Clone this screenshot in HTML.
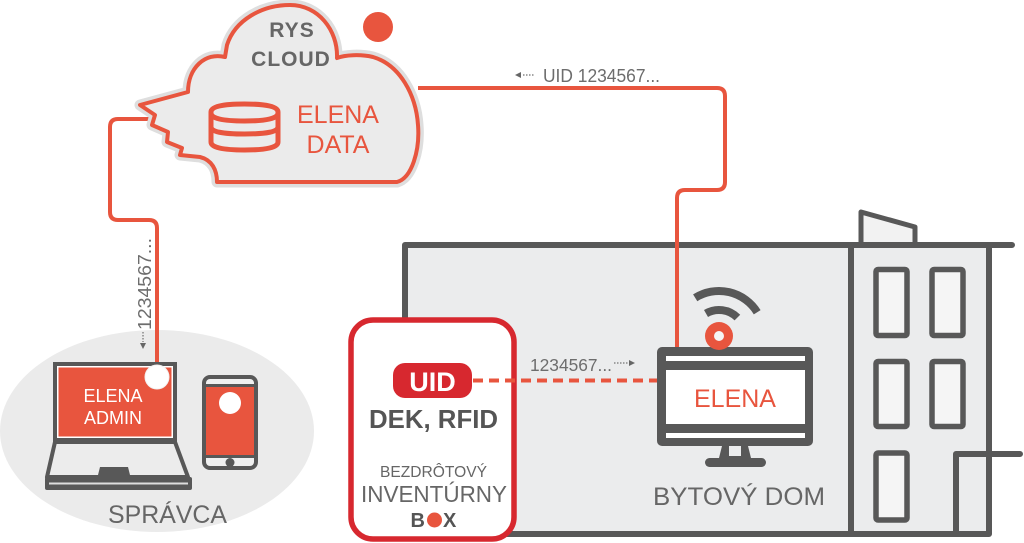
<!DOCTYPE html>
<html><head><meta charset="utf-8"><style>
html,body{margin:0;padding:0;background:#fff;}
svg{display:block;}
text{font-family:"Liberation Sans",sans-serif;}
</style></head><body>
<svg width="1024" height="543" viewBox="0 0 1024 543" xmlns="http://www.w3.org/2000/svg">
<rect width="1024" height="543" fill="#fff"/>
<!-- gray ellipse -->
<ellipse cx="157" cy="431" rx="157" ry="101" fill="#ebebeb"/>

<!-- building -->
<rect x="405" y="245" width="584" height="289" fill="#ebeced"/>
<path d="M861 245 V212 L915 227 V245 Z" fill="#f2f2f2" stroke="#585858" stroke-width="5" stroke-linejoin="round"/>
<g fill="none" stroke="#585858" stroke-width="6" stroke-linecap="round" stroke-linejoin="round">
<path d="M405 330 V245 H1012"/>
<path d="M851 245 V534 M989 245 V534 M500 534 H989"/>
<path d="M956 534 V454 H1020"/>
</g>
<g fill="#f5f5f5" stroke="#585858" stroke-width="5.5" stroke-linejoin="round">
<rect x="876" y="269.5" width="31" height="66" rx="2"/>
<rect x="932" y="269.5" width="31" height="66" rx="2"/>
<rect x="876" y="361.5" width="31" height="65" rx="2"/>
<rect x="932" y="361.5" width="31" height="65" rx="2"/>
<rect x="876" y="453" width="31" height="67" rx="2"/>
</g>

<!-- red connectors -->
<g fill="none" stroke="#e8553e" stroke-width="4">
<path d="M418 88 H717 Q725 88 725 96 V182 Q725 190 717 190 H685 Q677 190 677 198 V348"/>
<path d="M150 119 H118 Q110 119 110 127 V212 Q110 220 118 220 H149 Q157 220 157 228 V372"/>
</g>

<!-- cloud -->
<path d="M217 182 L397 182 C412 178 420 150 418 125 C416 95 400 65 373 57 C360 54 345 55 337 58 C338 30 318 5 290 5 C262 5 235 20 227 45 L225 57 C205 52 188 68 188 92 L140 105 L155 115 L152 125 L168 132 L167 142 L182 148 L180 155 L200 157 C212 160 217 170 217 182 Z" fill="none" stroke="#dedede" stroke-width="11" stroke-linejoin="round"/>
<path d="M217 182 L397 182 C412 178 420 150 418 125 C416 95 400 65 373 57 C360 54 345 55 337 58 C338 30 318 5 290 5 C262 5 235 20 227 45 L225 57 C205 52 188 68 188 92 L140 105 L155 115 L152 125 L168 132 L167 142 L182 148 L180 155 L200 157 C212 160 217 170 217 182 Z" fill="#ebebeb" stroke="#e8553e" stroke-width="4" stroke-linejoin="round"/>
<circle cx="378" cy="27" r="15" fill="#e8553e"/>
<text x="292" y="37" font-size="21" font-weight="bold" fill="#666" text-anchor="middle" letter-spacing="1">RYS</text>
<text x="291" y="66" font-size="21" font-weight="bold" fill="#666" text-anchor="middle" letter-spacing="1">CLOUD</text>
<!-- db icon -->
<g fill="none" stroke="#e8553e" stroke-width="5">
<path d="M211 112 Q211 104 244.5 104 Q278 104 278 112 V142 Q278 150 244.5 150 Q211 150 211 142 Z"/>
<path d="M211 113 Q211 121 244.5 121 Q278 121 278 113"/>
<path d="M211 127 Q211 134 244.5 134 Q278 134 278 127"/>
</g>
<text x="338" y="123" font-size="25" fill="#e8553e" text-anchor="middle">ELENA</text>
<text x="338" y="153" font-size="25" fill="#e8553e" text-anchor="middle">DATA</text>

<!-- top label -->
<path d="M515 75 L521 72 V78 Z" fill="#666"/>
<path d="M523 75 H534" stroke="#888" stroke-width="1.5" stroke-dasharray="1.5 1.5"/>
<text x="543" y="82" font-size="18" fill="#6d6d6d" textLength="117" lengthAdjust="spacingAndGlyphs">UID 1234567...</text>

<!-- vertical label -->
<text transform="translate(151,330) rotate(-90)" font-size="18" fill="#6d6d6d" textLength="92" lengthAdjust="spacingAndGlyphs">1234567...</text>
<path d="M143 332 V342" stroke="#888" stroke-width="1.5" stroke-dasharray="1.5 1.5"/>
<path d="M140 343 H146 L143 349 Z" fill="#666"/>

<!-- laptop -->
<rect x="55" y="364" width="120" height="76" fill="#fff" stroke="#585858" stroke-width="4"/>
<rect x="58.5" y="367.5" width="113" height="69" fill="#e8553e"/>
<circle cx="157" cy="377" r="12" fill="#fff" stroke="#f3f3f3" stroke-width="1"/>
<text x="113" y="402" font-size="18" fill="#fff" text-anchor="middle">ELENA</text>
<text x="113" y="424" font-size="18" fill="#fff" text-anchor="middle">ADMIN</text>
<path d="M55 442 L47 477 H188 L175 442 Z" fill="#ececec" stroke="#585858" stroke-width="4" stroke-linejoin="round"/>
<path d="M100 467 H128 L130 475 H98 Z" fill="#585858"/>
<rect x="45" y="477" width="147" height="13" rx="2" fill="#585858"/>
<path d="M49 483.5 H188" stroke="#ddd" stroke-width="2"/>

<!-- phone -->
<rect x="204" y="377" width="52" height="91" rx="6" fill="#f0f0f0" stroke="#585858" stroke-width="4"/>
<path d="M204 385.5 H256 M204 456.5 H256" stroke="#585858" stroke-width="3"/>
<rect x="206" y="387" width="48" height="68" fill="#e8553e"/>
<circle cx="230" cy="403" r="11" fill="#fff"/>
<circle cx="230" cy="462.5" r="4.5" fill="#585858"/>

<!-- inventory box -->
<rect x="351" y="320" width="163" height="219" rx="22" fill="#fff" stroke="#d7282f" stroke-width="5.5"/>
<path d="M473 380.5 H657" stroke="#e8553e" stroke-width="4" stroke-dasharray="10 6"/>
<rect x="393" y="363" width="79" height="35" rx="12" fill="#d7282f"/>
<text x="432.5" y="391" font-size="27" font-weight="bold" fill="#fff" text-anchor="middle">UID</text>
<text x="433.5" y="428" font-size="26" font-weight="bold" fill="#555" text-anchor="middle" textLength="129" lengthAdjust="spacingAndGlyphs">DEK, RFID</text>
<text x="433.5" y="477" font-size="16" fill="#666" text-anchor="middle" textLength="107" lengthAdjust="spacingAndGlyphs">BEZDRÔTOVÝ</text>
<text x="434" y="502" font-size="23" fill="#666" text-anchor="middle" textLength="146" lengthAdjust="spacingAndGlyphs">INVENTÚRNY</text>
<text x="425" y="527" font-size="20" font-weight="bold" fill="#555" text-anchor="end">B</text>
<circle cx="434.5" cy="520" r="7.5" fill="#e8553e"/>
<text x="443" y="527" font-size="20" font-weight="bold" fill="#555">X</text>

<text x="530" y="371" font-size="17.5" fill="#6d6d6d" textLength="82" lengthAdjust="spacingAndGlyphs">1234567...</text>
<path d="M614 363 H628" stroke="#888" stroke-width="1.5" stroke-dasharray="1.5 1.5"/>
<path d="M629 360 L635 363 L629 366 Z" fill="#666"/>

<!-- monitor -->
<g fill="none" stroke="#585858" stroke-width="8" stroke-linecap="butt">
<path d="M706 313.5 A26 26 0 0 1 737.4 317.6"/>
<path d="M695.2 297.8 A45 45 0 0 1 757.2 312.2"/>
</g>
<rect x="657" y="347" width="156" height="99" rx="5" fill="#585858"/>
<rect x="666" y="356" width="139" height="5" fill="#fff"/>
<rect x="666" y="370" width="139" height="54" fill="#fff"/>
<rect x="666" y="433" width="139" height="5" fill="#fff"/>
<circle cx="719" cy="336" r="14" fill="#e8553e"/>
<circle cx="719" cy="336" r="5" fill="#f5f5f5"/>
<text x="735" y="407" font-size="25" fill="#e8553e" text-anchor="middle">ELENA</text>
<path d="M722 446 L719 458 H751 L748 446 Z" fill="#585858"/>
<rect x="729" y="446" width="12" height="10" fill="#ebeced"/>
<rect x="705" y="458" width="61" height="9" rx="4.5" fill="#585858"/>
<text x="653" y="505" font-size="25" fill="#666" textLength="172" lengthAdjust="spacingAndGlyphs">BYTOVÝ DOM</text>

<text x="108" y="523" font-size="25" fill="#666" textLength="119" lengthAdjust="spacingAndGlyphs">SPRÁVCA</text>
</svg>
</body></html>
